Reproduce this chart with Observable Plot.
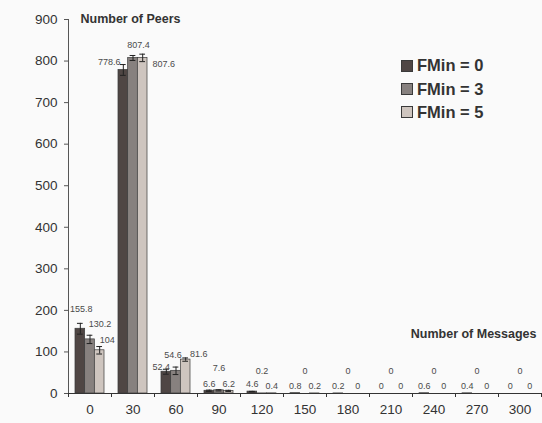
<!DOCTYPE html>
<html>
<head>
<meta charset="utf-8">
<script src="https://cdn.jsdelivr.net/npm/d3@7"></script>
<script src="https://cdn.jsdelivr.net/npm/@observablehq/plot@0.6"></script>
<style>
  html, body { margin: 0; padding: 0; background: #fafafa; }
  #wrap { position: relative; width: 542px; height: 423px; font-family: "Liberation Sans", Arial, Helvetica, sans-serif; }
  #legend { position: absolute; left: 401px; top: 54px; }
  .row { display: flex; align-items: center; height: 23.4px; }
  .sw { width: 10px; height: 10px; border: 1px solid #3a3a3a; margin-right: 4px; }
  .lab { font-weight: bold; font-size: 16.5px; color: #333; }
</style>
</head>
<body>
<div id="wrap"><div id="legend"></div></div>
<script>
// ---- data ----
const categories = [0, 30, 60, 90, 120, 150, 180, 210, 240, 270, 300];
const series = ["FMin = 0", "FMin = 3", "FMin = 5"];
const fmin0 = [155.8, 778.6, 52.4, 6.6, 4.6, 0.8, 0.2, 0, 0.6, 0.4, 0];
const fmin3 = [130.2, 807.4, 54.6, 7.6, 0.2, 0, 0, 0, 0, 0, 0];
const fmin5 = [104, 807.6, 81.6, 6.2, 0.4, 0.2, 0, 0, 0, 0, 0];
const err0 = [13, 13, 6, 1.5, 0.5, 0, 0, 0, 0, 0, 0];
const err3 = [10, 6, 9, 1.5, 0, 0, 0, 0, 0, 0, 0];
const err5 = [9, 9, 4, 1.5, 0, 0, 0, 0, 0, 0, 0];
const yTicks = [0, 100, 200, 300, 400, 500, 600, 700, 800, 900];

// ---- style / layout ----
const colors = ["#4f4644", "#87817f", "#cec5bf"];
const W = 542, H = 423, mL = 68, mR = 1, mT = 19, mB = 30;
const xDomain = [-15, 315], yDomain = [0, 900];
const kx = (W - mL - mR) / (xDomain[1] - xDomain[0]);
const ky = (H - mT - mB) / (yDomain[1] - yDomain[0]);
const barW = 6.75; // in x units
// label nudges in px (dx, dy) for the first three groups; others default
const nudges = {
  "0": [[1, -20], [10, -15], [7.5, -10]],
  "30": [[-14, -8], [5.5, -13], [21, 6]],
  "60": [[-5, -5], [-3, -16], [13, -5]]
};
const defaultNudge = [[0, -7], [0, -22], [0, -7]];

const vals = [fmin0, fmin3, fmin5];
const errs = [err0, err3, err5];
const rows = [];
categories.forEach((c, gi) => {
  series.forEach((s, si) => {
    const cx = c + (si - 1) * barW;
    const n = (nudges[String(c)] || defaultNudge)[si];
    rows.push({cat: c, series: s, si, v: vals[si][gi], e: errs[si][gi], cx, x1: cx - barW / 2, x2: cx + barW / 2, ndx: n[0], ndy: n[1]});
  });
});
const errRows = rows.filter(d => d.e > 0);
const boundaries = categories.map(c => c + 15).concat([-15]);

const font = "Liberation Sans, Arial, Helvetica, sans-serif";
const chart = Plot.plot({
  width: W, height: H,
  marginLeft: mL, marginRight: mR, marginTop: mT, marginBottom: mB,
  style: {background: "transparent", fontFamily: font, color: "#333"},
  x: {domain: xDomain},
  y: {domain: yDomain},
  color: {domain: series, range: colors},
  marks: [
    Plot.rect(rows, {x1: "x1", x2: "x2", y1: 0, y2: "v", fill: "series", stroke: "#3a3a3a", strokeWidth: 0.7}),
    Plot.ruleX(errRows, {x: "cx", y1: d => d.v - d.e, y2: d => d.v + d.e, stroke: "#222", strokeWidth: 1}),
    Plot.ruleY(errRows, {y: d => d.v + d.e, x1: d => d.cx - 2, x2: d => d.cx + 2, stroke: "#222", strokeWidth: 1}),
    Plot.ruleY(errRows, {y: d => d.v - d.e, x1: d => d.cx - 2, x2: d => d.cx + 2, stroke: "#222", strokeWidth: 1}),
    Plot.text(rows, {x: d => d.cx + d.ndx / kx, y: d => d.v - d.ndy / ky, text: d => String(d.v), fontSize: 9, fill: "#4a4a4a"}),
    Plot.ruleY([0], {stroke: "#333", strokeWidth: 1}),
    Plot.ruleX([xDomain[0]], {stroke: "#555", strokeWidth: 1}),
    Plot.axisY({ticks: yTicks, tickSize: 4, tickPadding: 7, fontSize: 13.5, label: null, stroke: "#555"}),
    Plot.axisX({ticks: boundaries, tickSize: 4, tickFormat: () => "", label: null, stroke: "#333"}),
    Plot.axisX({ticks: categories, tickSize: 0, tickPadding: 11, fontSize: 13.5, label: null}),
    Plot.text(["Number of Peers"], {frameAnchor: "top-left", dx: 12, dy: -5, textAnchor: "start", fontWeight: "bold", fontSize: 12.5, fill: "#333"}),
    Plot.text(["Number of Messages"], {frameAnchor: "bottom-right", dx: -5, dy: -56, textAnchor: "end", fontWeight: "bold", fontSize: 12.5, fill: "#333"})
  ]
});
document.getElementById("wrap").prepend(chart);

const legend = document.getElementById("legend");
series.forEach((s, i) => {
  const r = document.createElement("div");
  r.className = "row";
  r.innerHTML = `<div class="sw" style="background:${colors[i]}"></div><span class="lab">${s}</span>`;
  legend.appendChild(r);
});
</script>
</body>
</html>
